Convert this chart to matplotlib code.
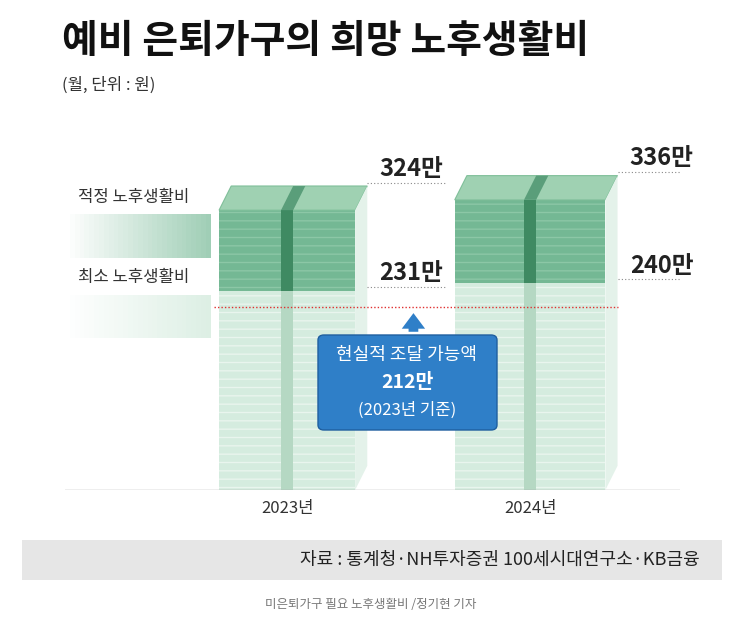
import matplotlib
matplotlib.use("Agg")
import matplotlib.pyplot as plt
from matplotlib.patches import Polygon, FancyBboxPatch, Rectangle
import numpy as np

plt.rcParams['font.family'] = ['Noto Sans CJK KR', 'DejaVu Sans']

years = ["2023년", "2024년"]
minimum = [231, 240]
proper = [324, 336]
available = 212
title = "예비 은퇴가구의 희망 노후생활비"
subtitle = "(월, 단위 : 원)"
source = "자료 : 통계청·NH투자증권 100세시대연구소·KB금융"
caption = "미은퇴가구 필요 노후생활비 /정기현 기자"

W, H = 742, 634
fig = plt.figure(figsize=(W/100, H/100), dpi=100)
fig.patch.set_facecolor("white")

def fx(px): return px / W
def fy(py): return 1 - py / H

ax = fig.add_axes([fx(65), fy(490), fx(680)-fx(65), fy(110)-fy(490)])
ax.set_xlim(-0.914, 1.617)
ax.set_ylim(0, 440)
ax.axis("off")

x = np.arange(len(years))
widths = [0.56, 0.62]
light = "#d5ecdf"
dark = "#74b894"
dx, dy = 0.05, 28
for i in range(len(years)):
    w = widths[i]
    ax.bar(x[i], minimum[i], width=w, color=light, hatch="--", edgecolor="#e9f5ee", linewidth=0)
    ax.bar(x[i], proper[i]-minimum[i], bottom=minimum[i], width=w, color=dark,
           hatch="--", edgecolor="#8cc7a6", linewidth=0)
    top = proper[i]
    ax.add_patch(Polygon([(x[i]-w/2, top), (x[i]+w/2, top), (x[i]+w/2+dx, top+dy), (x[i]-w/2+dx, top+dy)],
                         closed=True, facecolor="#9fd1b2", edgecolor="#7fbf99", lw=0.8))
    ax.add_patch(Polygon([(x[i]+w/2, 0), (x[i]+w/2+dx, dy), (x[i]+w/2+dx, top+dy), (x[i]+w/2, top)],
                         closed=True, facecolor="#e4f2ea", edgecolor="none"))
    ax.bar(x[i], minimum[i], width=0.05, color="#b5d8c3", linewidth=0)
    ax.bar(x[i], top-minimum[i], bottom=minimum[i], width=0.05, color="#3f8a62", linewidth=0)
    ax.add_patch(Polygon([(x[i]-0.025, top), (x[i]+0.025, top), (x[i]+0.025+dx, top+dy), (x[i]-0.025+dx, top+dy)],
                         closed=True, facecolor="#5a9e7a", edgecolor="none"))
    lx = x[i] + w/2 + 0.08
    for v, off in ((proper[i], dy), (minimum[i], 0)):
        ax.text(lx + 0.02, v + off + 6, f"{v}만", fontsize=17, fontweight="bold", ha="left", va="bottom", color="#222")
        ax.plot([x[i]+w/2+dx, lx+0.3], [v+off+4, v+off+4], ls=(0, (1, 2)), color="#888", lw=0.8)
    ax.text(x[i], -22, years[i], ha="center", va="center", fontsize=12, color="#333")

for v, lab, col in ((proper[0], "적정 노후생활비", "#74b894"), (minimum[0], "최소 노후생활비", "#cde8d8")):
    for k in range(30):
        ax.add_patch(Rectangle((-0.914 + k*0.02, v-55), 0.02, 50, facecolor=col, alpha=k/30*0.7, lw=0))
    ax.text(-0.86, v + 5, lab, fontsize=12, ha="left", va="bottom", color="#333")

ax.axhline(0, color="#aaa", lw=1)
ax.plot([-0.3, 1.36], [available, available], ls=(0, (1, 1.5)), color="#e03030", lw=1)

box_x = 0.5 * (x[0] + x[1]) + 0.02
ax.annotate("", xy=(box_x, available - 4), xytext=(box_x, available - 32),
            arrowprops=dict(arrowstyle="simple,head_width=1.2,head_length=0.8,tail_width=0.5",
                            color="#2f7fc8", mutation_scale=14, lw=0))
fig.patches.append(FancyBboxPatch((fx(318), fy(430)), fx(497)-fx(318), fy(335)-fy(430),
                                  boxstyle="round,pad=0,rounding_size=0.008", transform=fig.transFigure,
                                  facecolor="#2f7fc8", edgecolor="#1f5f9f", lw=1))
fig.text(fx(407), fy(355), "현실적 조달 가능액", color="white", fontsize=13, ha="center", va="center")
fig.text(fx(407), fy(383), f"{available}만", color="white", fontsize=14, fontweight="bold", ha="center", va="center")
fig.text(fx(407), fy(410), "(2023년 기준)", color="white", fontsize=12, ha="center", va="center")

fig.text(fx(62), fy(42), title, fontsize=28, fontweight="bold", ha="left", va="center", color="#111")
fig.text(fx(62), fy(85), subtitle, fontsize=12, ha="left", va="center", color="#333")

fig.patches.append(Rectangle((fx(22), fy(580)), fx(722)-fx(22), fy(540)-fy(580), transform=fig.transFigure,
                             facecolor="#e6e6e6", edgecolor="none"))
fig.text(fx(700), fy(560), source, fontsize=13, ha="right", va="center", color="#222")
fig.text(0.5, fy(605), caption, fontsize=9, ha="center", va="center", color="#777")

fig.savefig("out.png", dpi=100, facecolor="white")
